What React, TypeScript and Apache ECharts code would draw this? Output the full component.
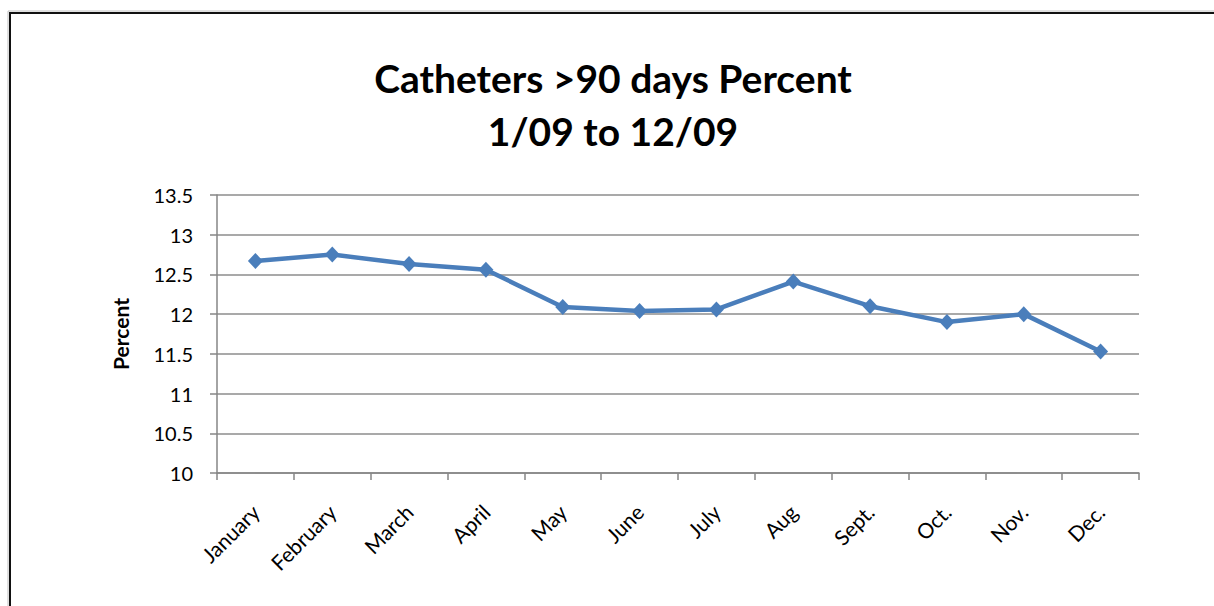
import React, { useEffect, useRef } from "react";
import * as echarts from "echarts";

const months = ["January", "February", "March", "April", "May", "June", "July", "Aug", "Sept.", "Oct.", "Nov.", "Dec."];
const percentValues = [12.67, 12.75, 12.63, 12.56, 12.09, 12.04, 12.06, 12.41, 12.1, 11.9, 12.0, 11.53];
const titleLines = ["Catheters >90 days Percent", "1/09 to 12/09"];
const yAxisName = "Percent";
const yMin = 10;
const yMax = 13.5;
const yStep = 0.5;

const FONT = "Lato, 'Open Sans', sans-serif";

export default function App() {
  const ref = useRef<HTMLDivElement>(null);
  useEffect(() => {
    if (!ref.current) return;
    const chart = echarts.init(ref.current, null, { renderer: "svg" });
    chart.setOption({
      animation: false,
      backgroundColor: "#ffffff",
      title: {
        text: titleLines.join("\n"),
        left: 608,
        top: 46,
        textAlign: "center",
        textStyle: {
          fontFamily: FONT,
          fontSize: 39,
          fontWeight: "bold",
          lineHeight: 53,
          color: "#000",
        },
      },
      graphic: [
        {
          type: "rect",
          silent: true,
          shape: { x: 8, y: 11, width: 1400, height: 800 },
          style: { fill: "none", stroke: "#c0c0c0", lineWidth: 1 },
        },
        {
          type: "rect",
          silent: true,
          shape: { x: 10, y: 13, width: 1400, height: 800 },
          style: { fill: "none", stroke: "#111", lineWidth: 2 },
        },
      ],
      grid: {
        left: 217,
        right: 75,
        top: 195,
        bottom: 133,
        containLabel: false,
        outerBoundsMode: "none",
      },
      xAxis: {
        type: "category",
        data: months,
        boundaryGap: true,
        axisLine: { show: true, lineStyle: { color: "#868686", width: 1.5 } },
        axisTick: { show: true, alignWithLabel: false, length: 7, lineStyle: { color: "#868686", width: 1.5 } },
        axisLabel: {
          interval: 0,
          rotate: 45,
          margin: 35,
          fontFamily: FONT,
          fontSize: 21,
          color: "#000",
        },
        splitLine: { show: false },
      },
      yAxis: {
        type: "value",
        min: yMin,
        max: yMax,
        interval: yStep,
        name: yAxisName,
        nameLocation: "middle",
        nameGap: 86,
        nameTextStyle: { fontFamily: FONT, fontSize: 21, fontWeight: "bold", color: "#000" },
        axisLine: { show: true, lineStyle: { color: "#868686", width: 1.5 } },
        axisTick: { show: true, length: 7, lineStyle: { color: "#868686", width: 1.5 } },
        axisLabel: { fontFamily: FONT, fontSize: 20, color: "#000", margin: 24 },
        splitLine: { show: true, lineStyle: { color: "#8c8c8c", width: 1.5 } },
      },
      series: [
        {
          type: "line",
          data: percentValues,
          symbol: "diamond",
          symbolSize: [15, 16],
          lineStyle: { color: "#4a7ebb", width: 4.5 },
          itemStyle: { color: "#4a7ebb" },
        },
      ],
    });
    return () => chart.dispose();
  }, []);
  return (
    <div
      ref={ref}
      style={{ position: "fixed", left: 0, top: 0, width: 1214, height: 606, background: "#fff" }}
    />
  );
}
